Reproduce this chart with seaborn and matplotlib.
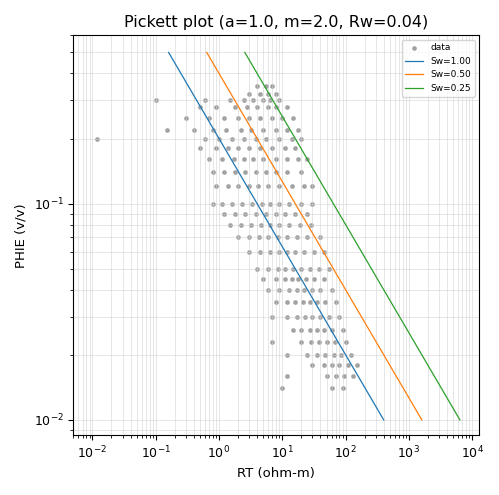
import numpy as np
import pandas as pd
import matplotlib
matplotlib.use("Agg")
import matplotlib.pyplot as plt
import seaborn as sns

phi_rows = [0.35, 0.32, 0.30, 0.28, 0.25, 0.22, 0.20, 0.18, 0.16, 0.14, 0.12,
            0.10, 0.09, 0.08, 0.07, 0.06, 0.05, 0.045, 0.04, 0.035, 0.03,
            0.026, 0.023, 0.02, 0.018, 0.016, 0.014]
rt_rows = [
    [4, 5.5, 7],
    [3, 4.5, 6, 8],
    [0.1, 0.6, 1.5, 2.5, 3.5, 5, 6.5, 9],
    [0.5, 0.9, 1.8, 2.8, 4, 6, 8, 12],
    [0.3, 0.7, 1.2, 2, 3, 4.5, 7, 10, 15],
    [0.15, 0.4, 0.8, 1.3, 2.2, 3.2, 5, 8, 12, 18],
    [0.012, 0.6, 1, 1.6, 2.5, 3.8, 5.5, 9, 14, 20],
    [0.5, 0.9, 1.4, 2, 3, 4.5, 7, 11, 16],
    [0.7, 1.1, 1.7, 2.5, 3.5, 5, 8, 12, 18, 25],
    [0.8, 1.2, 1.8, 2.6, 3.8, 5.5, 8, 12, 20],
    [0.9, 1.4, 2, 3, 4.2, 6, 9, 14, 22, 30],
    [0.8, 1.1, 1.6, 2.3, 3.3, 4.7, 6.5, 9, 13, 20, 30],
    [1.2, 1.8, 2.6, 3.8, 5.5, 8, 11, 16, 25],
    [1.5, 2.2, 3.2, 4.6, 6.5, 9, 13, 19, 28],
    [2, 3, 4.3, 6, 8.5, 12, 17, 25, 40],
    [3, 4.5, 6.5, 9, 12, 16, 22, 32, 45],
    [4, 6, 8.5, 11, 15, 20, 27, 38, 55],
    [5, 8, 11, 14, 18, 24, 32, 45],
    [6, 9, 13, 17, 22, 29, 40, 60],
    [8, 12, 16, 21, 27, 35, 48, 70],
    [7, 12, 17, 23, 30, 40, 55, 80],
    [15, 20, 27, 35, 46, 62, 90],
    [7, 20, 28, 38, 50, 68, 100],
    [12, 25, 35, 48, 65, 85, 120],
    [30, 45, 60, 80, 110, 150],
    [12, 50, 70, 95, 130],
    [10, 60, 90],
]

# Sw lines, end points (phi 0.5 -> 0.01)
line_phi = [0.5, 0.01]
line_rt = {
    "Sw=1.00": [0.16, 400],
    "Sw=0.50": [0.64, 1600],
    "Sw=0.25": [2.56, 6400],
}
line_colors = ["#1f77b4", "#ff7f0e", "#2ca02c"]

rows = []
for p, rts in zip(phi_rows, rt_rows):
    for r in rts:
        rows.append({"RT": r, "PHIE": p})
df = pd.DataFrame(rows)

fig, ax = plt.subplots(figsize=(4.99, 4.95), dpi=100)
sns.scatterplot(data=df, x="RT", y="PHIE", color="#333333", alpha=0.45, s=9,
                edgecolor="#888888", linewidth=0.5, label="data", ax=ax)
for (name, rts), c in zip(line_rt.items(), line_colors):
    sns.lineplot(x=rts, y=line_phi, color=c, lw=0.9, label=name, ax=ax)

ax.set_xscale("log")
ax.set_yscale("log")
ax.set_xlim(0.005, 13000)
ax.set_ylim(0.0085, 0.6)
ax.grid(True, which="both", color="#cccccc", lw=0.5, alpha=0.7)
ax.tick_params(labelsize=9)
ax.set_xlabel("RT (ohm-m)", fontsize=9.5)
ax.set_ylabel("PHIE (v/v)", fontsize=9.5)
ax.set_title("Pickett plot (a=1.0, m=2.0, Rw=0.04)", fontsize=11.5)
ax.legend(loc="upper right", fontsize=6.5)
plt.tight_layout()
plt.savefig("out.png", dpi=100)
